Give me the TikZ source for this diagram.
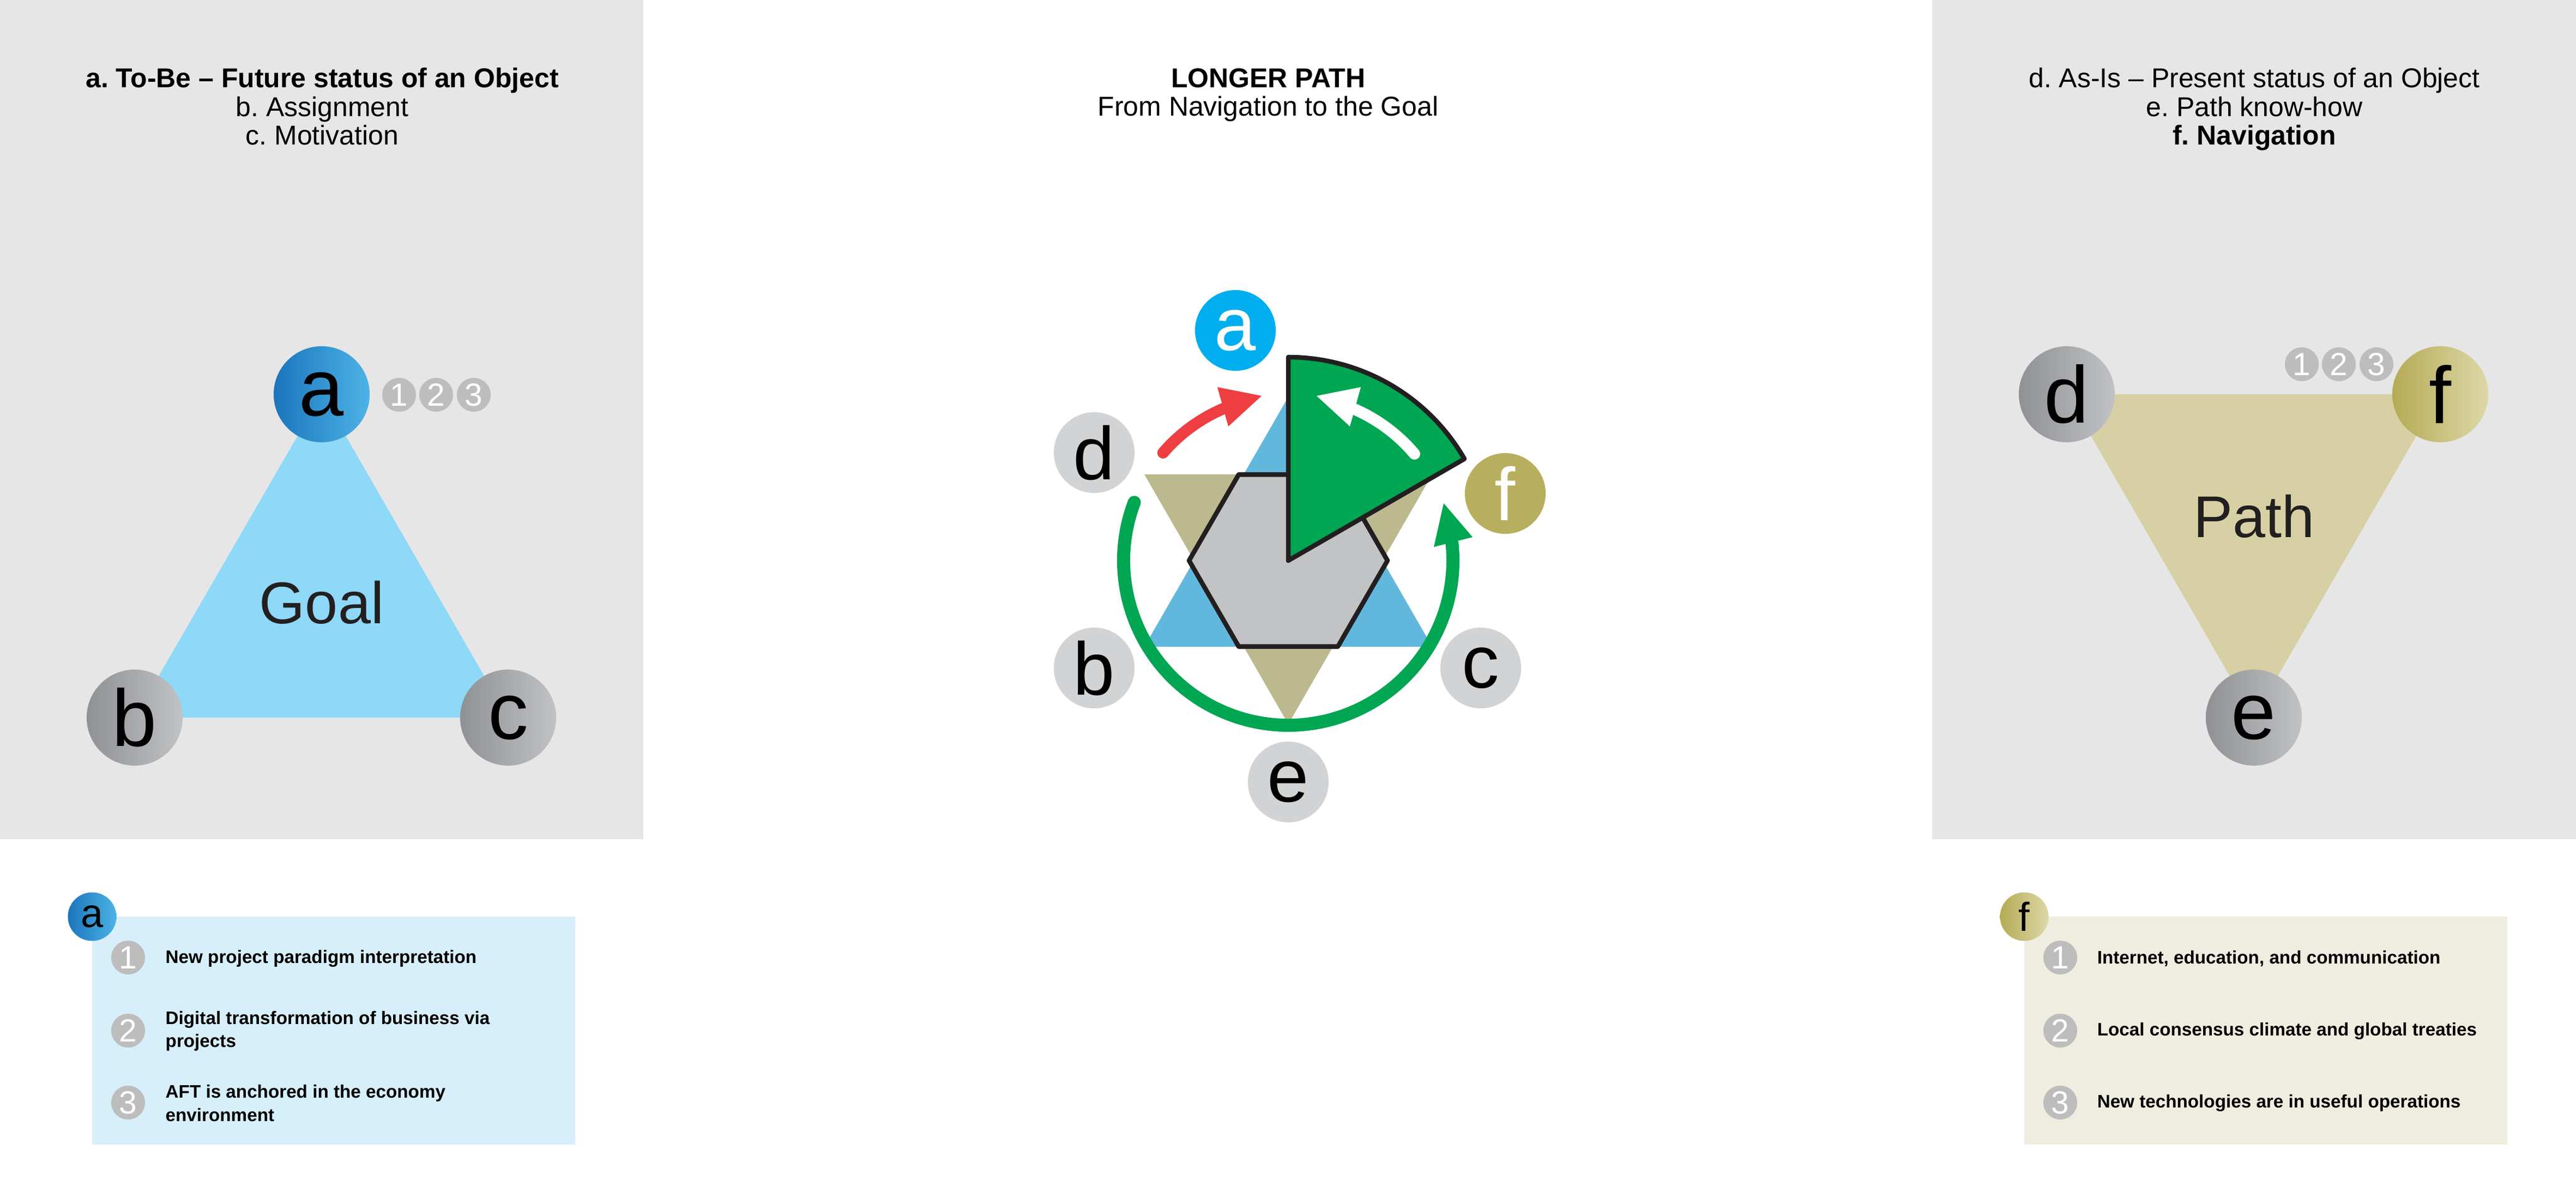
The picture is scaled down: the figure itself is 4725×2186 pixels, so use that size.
\documentclass[tikz,border=0pt]{standalone}
\usepackage{fontspec}
\setmainfont{Liberation Sans}
\frenchspacing
\definecolor{panelgray}{HTML}{E6E6E6}
\definecolor{goalblue}{HTML}{8ED8F8}
\definecolor{pathkhaki}{HTML}{D6D0A4}
\definecolor{adark}{HTML}{1B75BC}
\definecolor{alight}{HTML}{4DB3E6}
\definecolor{gdark}{HTML}{8F9194}
\definecolor{glight}{HTML}{C0C2C4}
\definecolor{fdark}{HTML}{B5AB55}
\definecolor{flight}{HTML}{DDD8A8}
\definecolor{numgray}{HTML}{BDBDBD}
\definecolor{cgray}{HTML}{D1D3D4}
\definecolor{acyan}{HTML}{00AEEF}
\definecolor{folive}{HTML}{B8AF5E}
\definecolor{triblue}{HTML}{62B8DC}
\definecolor{trikhaki}{HTML}{BDB98F}
\definecolor{hexgray}{HTML}{C2C3C5}
\definecolor{sgreen}{HTML}{00A651}
\definecolor{sred}{HTML}{EF3E42}
\definecolor{boxblue}{HTML}{D7EFFA}
\definecolor{boxkhaki}{HTML}{EFEDDF}
\definecolor{darktext}{HTML}{231F20}
\begin{document}
\begin{tikzpicture}[x=0.01cm, y=-0.01cm,
  paneldot/.style={circle, minimum size=1.76cm, inner sep=0pt, text=black,
    font=\fontsize{42}{42}\selectfont},
  graydot/.style={paneldot, left color=gdark, right color=glight},
  bluedot/.style={paneldot, left color=adark, right color=alight},
  olivedot/.style={paneldot, left color=fdark, right color=flight},
  numdot/.style={circle, fill=numgray, minimum size=0.62cm, inner sep=0pt,
    text=white, font=\fontsize{16.7}{16.7}\selectfont},
  cdot/.style={circle, fill=cgray, minimum size=1.48cm, inner sep=0pt,
    text=black, font=\fontsize{39}{39}\selectfont},
  smalldot/.style={circle, minimum size=0.89cm, inner sep=0pt, text=black,
    font=\fontsize{21}{21}\selectfont},
  titlebold/.style={anchor=base, inner sep=0pt, font=\bfseries\fontsize{14.2}{15.1}\selectfont},
  titlereg/.style={anchor=base, inner sep=0pt, font=\fontsize{14.2}{15.1}\selectfont},
  bigword/.style={inner sep=0pt, text=darktext, font=\fontsize{30.7}{30.7}\selectfont},
  itemtext/.style={anchor=west, align=left, inner sep=0pt,
    font=\bfseries\fontsize{9.45}{12.1}\selectfont},
  blackline/.style={draw=darktext, line width=0.085cm, line join=round}
]
\useasboundingbox (0,0) rectangle (4725,2186);
\fill[white] (0,0) rectangle (4725,2186);

% ---------- panels ----------
\fill[panelgray] (0,0) rectangle (1180,1539);
\fill[panelgray] (3544,0) rectangle (4725,1539);

% ---------- left panel ----------
\node[titlebold] (lt1) at (591,161) {a. To-Be -- Future status of an Object};
\node[titlereg]  (lt2) at (591,214) {b. Assignment};
\node[titlereg]  (lt3) at (591,266) {c. Motivation};

\coordinate (pa) at (590,723);
\coordinate (pb) at (247,1316);
\coordinate (pc) at (932,1316);
\fill[goalblue] (pa) -- (pb) -- (pc) -- cycle;
\node[bigword] (goal) at (590,1105) {Goal};
\node[bluedot] (la) at (pa) {a};
\node[graydot] (lb) at (pb) {b};
\node[graydot] (lc) at (pc) {c};
\node[numdot] (ln1) at (732,724) {1};
\node[numdot] (ln2) at (800,724) {2};
\node[numdot] (ln3) at (869,724) {3};

% ---------- right panel ----------
\node[titlereg]  (rt1) at (4135,161) {d. As-Is -- Present status of an Object};
\node[titlereg]  (rt2) at (4135,214) {e. Path know-how};
\node[titlebold] (rt3) at (4135,266) {f. Navigation};

\coordinate (pd) at (3791,723);
\coordinate (pf) at (4476,723);
\coordinate (pe) at (4134,1316);
\fill[pathkhaki] (pd) -- (pf) -- (pe) -- cycle;
\node[bigword] (path) at (4134,947) {Path};
\node[graydot] (rd) at (pd) {d};
\node[olivedot] (rf) at (pf) {f};
\node[graydot] (re) at (pe) {e};
\node[numdot] (rn1) at (4222,668) {1};
\node[numdot] (rn2) at (4290,668) {2};
\node[numdot] (rn3) at (4359,668) {3};

% ---------- center title ----------
\node[titlebold] (ct1) at (2326,161) {LONGER PATH};
\node[titlereg]  (ct2) at (2326,213) {From Navigation to the Goal};

% ---------- central figure ----------
\coordinate (ctr) at (2363,1028);
\begin{scope}[shift={(ctr)}, y=0.01cm]
  \fill[triblue] (-264,-158) -- (264,-158) -- (0,300) -- cycle;
  \fill[trikhaki] (-264,158) -- (264,158) -- (0,-300) -- cycle;
  \filldraw[fill=hexgray, blackline] (0:182) -- (60:182) -- (120:182) -- (180:182)
     -- (240:182) -- (300:182) -- cycle;
  \filldraw[fill=sgreen, blackline] (0,0) -- (90:373)
     arc[start angle=90, end angle=30, radius=373] -- cycle;
  % white arrow
  \draw[white, line width=0.21cm, line cap=round] (40.2:303)
     arc[start angle=40.2, end angle=66.3, radius=303];
  \fill[white] (133,318) -- (52,302) -- (113,246) -- cycle;
  % red arrow
  \draw[sred, line width=0.21cm, line cap=round] (139.3:303)
     arc[start angle=139.3, end angle=113.2, radius=303];
  \fill[sred] (-130,318) -- (-49,302) -- (-110,246) -- cycle;
  % green ring arrow
  \draw[sgreen, line width=0.24cm, line cap=round] (159.3:302)
     arc[start angle=159.3, end angle=366, radius=302];
  \fill[sgreen] (267,25) -- (285,105) -- (338,43) -- cycle;
\end{scope}

\node[cdot, fill=acyan, text=white] (ca) at (2266,606) {a};
\node[cdot] (cd) at (2007,830) {d};
\node[cdot] (cb) at (2007,1225) {b};
\node[cdot] (cc) at (2716,1225) {c};
\node[cdot] (ce) at (2363,1434) {e};
\node[cdot, fill=folive, text=white] (cf) at (2761,905) {f};

% ---------- bottom left box ----------
\fill[boxblue] (169,1681) rectangle (1055,2099);
\node[smalldot, left color=adark, right color=alight] (ba) at (169,1681) {a};
\node[numdot] (bl1) at (235,1756) {1};
\node[numdot] (bl2) at (235,1890) {2};
\node[numdot] (bl3) at (235,2022) {3};
\node[itemtext] (tl1) at (303,1758) {New project paradigm interpretation};
\node[itemtext] (tl2) at (303,1891) {Digital transformation of business via\\projects};
\node[itemtext] (tl3) at (303,2023) {AFT is anchored in the economy\\environment};

% ---------- bottom right box ----------
\fill[boxkhaki] (3713,1681) rectangle (4599,2099);
\node[smalldot, left color=fdark, right color=flight] (bf) at (3713,1681) {f};
\node[numdot] (br1) at (3779,1756) {1};
\node[numdot] (br2) at (3779,1890) {2};
\node[numdot] (br3) at (3779,2022) {3};
\node[itemtext] (tr1) at (3846,1758) {Internet, education, and communication};
\node[itemtext] (tr2) at (3846,1891) {Local consensus climate and global treaties};
\node[itemtext] (tr3) at (3846,2023) {New technologies are in useful operations};
\end{tikzpicture}
\end{document}
